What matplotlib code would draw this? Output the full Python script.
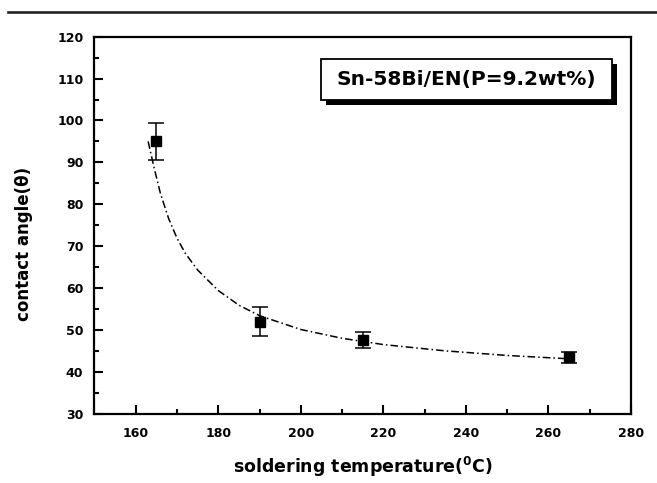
import matplotlib
matplotlib.use("Agg")
import matplotlib.pyplot as plt
from matplotlib.patches import Rectangle
from matplotlib.lines import Line2D
from matplotlib.ticker import MultipleLocator

# Measured contact angle versus soldering temperature
temperature = [165, 190, 215, 265]
contact_angle = [95.0, 52.0, 47.6, 43.5]
angle_error = [4.4, 3.5, 1.9, 1.3]

# Trend curve through the measurements
curve_temperature = [163, 164.5, 166, 168, 170, 172, 175, 180, 185, 190,
                     200, 210, 220, 235, 250, 265]
curve_angle = [95.0, 88.5, 82.5, 76.5, 71.9, 68.3, 64.3, 59.4, 55.9, 53.4,
               50.1, 48.0, 46.5, 45.0, 43.9, 43.1]

legend_label = "Sn-58Bi/EN(P=9.2wt%)"
x_label = r"soldering temperature($\mathbf{^0}$C)"
y_label = "contact angle(\u03b8)"

plt.rcParams["font.family"] = ["DejaVu Sans"]
plt.rcParams["font.weight"] = "bold"
plt.rcParams["mathtext.default"] = "bf"

fig = plt.figure(figsize=(6.57, 4.83), dpi=100)
ax = fig.add_axes([0.1438, 0.1435, 0.8166, 0.7805])

ax.plot(curve_temperature, curve_angle, color="black", linewidth=1.1,
        linestyle=(0, (5, 2, 1, 2)))
ax.errorbar(temperature, contact_angle, yerr=angle_error, fmt="s",
            color="black", markersize=6.5, elinewidth=1.1, capsize=5.8,
            capthick=1.1)

ax.set_xlim(150, 280)
ax.set_ylim(30, 120)
ax.xaxis.set_major_locator(MultipleLocator(20))
ax.xaxis.set_minor_locator(MultipleLocator(10))
ax.yaxis.set_major_locator(MultipleLocator(10))
ax.yaxis.set_minor_locator(MultipleLocator(5))

for side in ax.spines.values():
    side.set_linewidth(1.6)

ax.tick_params(which="both", direction="in", top=False, right=False,
               width=1.5, labelsize=9)
ax.tick_params(which="major", length=6.5)
ax.tick_params(which="minor", length=3.5)
ax.tick_params(axis="x", which="major", pad=9.5)
ax.tick_params(axis="y", which="major", pad=8)
for lbl in ax.get_xticklabels() + ax.get_yticklabels():
    lbl.set_fontweight("bold")

ax.set_xlabel(x_label, fontsize=12.5, fontweight="bold")
ax.set_ylabel(y_label, fontsize=12, fontweight="bold")
ax.xaxis.set_label_coords(0.5, -0.11)
ax.yaxis.set_label_coords(-0.1146, 0.451)

# Boxed caption with a drop shadow
bx0, by0, bw, bh = 0.4216, 0.832, 0.5424, 0.108
ax.add_patch(Rectangle((bx0 + 0.0095, by0 - 0.0135), bw, bh,
                       transform=ax.transAxes, facecolor="black",
                       edgecolor="black", linewidth=0, zorder=5))
ax.add_patch(Rectangle((bx0, by0), bw, bh, transform=ax.transAxes,
                       facecolor="white", edgecolor="black", linewidth=1.3,
                       zorder=6))
ax.text(bx0 + bw / 2, by0 + bh / 2, legend_label, transform=ax.transAxes,
        ha="center", va="center", fontsize=14.5, fontweight="bold", zorder=7)

# Rule across the top of the page
fig.add_artist(Line2D([0.012, 1.0], [0.975, 0.975], transform=fig.transFigure,
                      color="#222222", linewidth=1.9))

fig.savefig("out.png", dpi=100)
